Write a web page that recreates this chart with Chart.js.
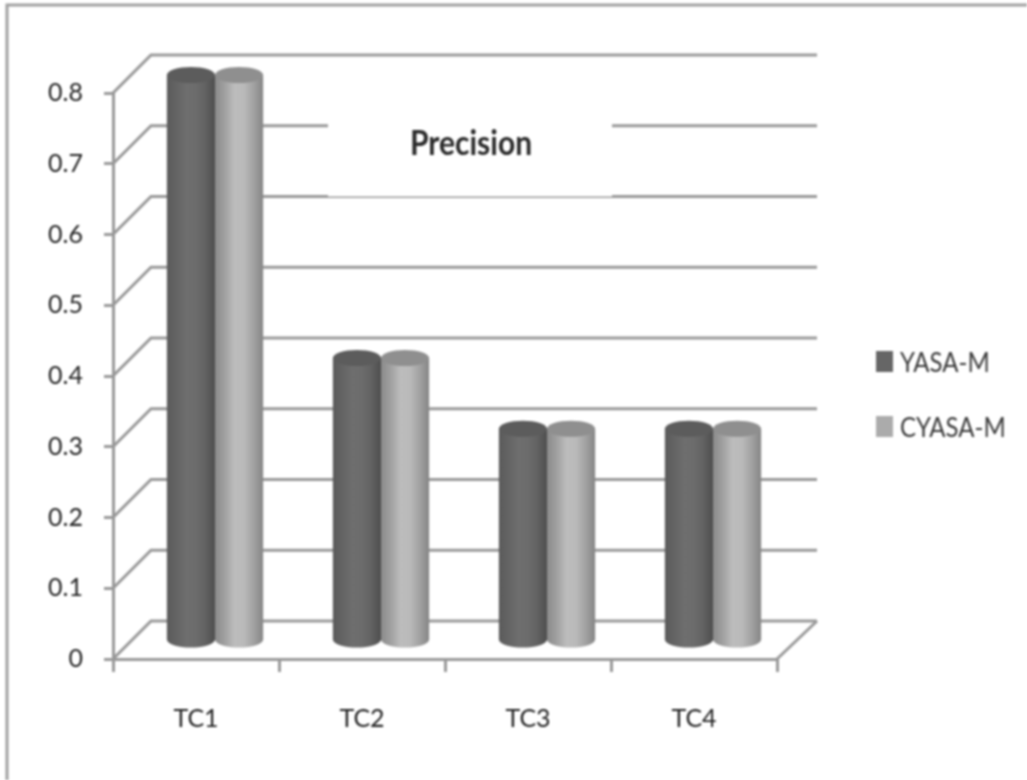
<!DOCTYPE html>
<html>
<head>
<meta charset="utf-8">
<title>Precision</title>
<script src="https://cdn.jsdelivr.net/npm/chart.js@4"></script>
<style>
  html, body { margin: 0; padding: 0; background: #fff; overflow: hidden; }
  canvas { display: block; filter: blur(0.9px); }
</style>
</head>
<body>
<canvas id="precisionChart" width="1027" height="780"></canvas>
<script>
const categories = ['TC1', 'TC2', 'TC3', 'TC4'];
const yasaValues = [0.8, 0.4, 0.3, 0.3];
const cyasaValues = [0.8, 0.4, 0.3, 0.3];
const yTicks = [0, 0.1, 0.2, 0.3, 0.4, 0.5, 0.6, 0.7, 0.8];

const gridColor = '#999999';
const textFont = 'Lato, "Liberation Sans", sans-serif';

// depth of the fake 3D box, in pixels
const wallDx = 38;
const wallDy = -38;

// left and right shading of each cylinder
const barShades = [
    { top: '#5c5c5c', stops: ['#5a5a5a', '#646464', '#6e6e6e', '#6c6c6c', '#626262', '#4e4e4e'] },
    { top: '#8f8f8f', stops: ['#8a8a8a', '#a0a0a0', '#bcbcbc', '#bababa', '#a2a2a2', '#858585'] }
];

// the source picture is stretched vertically, so text drawn here is too
function tallText(ctx, text, x, baseline, stretch) {
    ctx.save();
    ctx.translate(x, baseline);
    ctx.scale(1, stretch);
    ctx.fillText(text, 0, 0);
    ctx.restore();
}

const box3d = {
    id: 'box3d',
    beforeDraw(chart) {
        const { ctx, scales } = chart;
        const x0 = scales.x.left;
        const x1 = scales.x.right;

        ctx.save();
        // picture frame
        ctx.strokeStyle = '#a0a0a0';
        ctx.lineWidth = 3;
        ctx.beginPath();
        ctx.moveTo(7, 780);
        ctx.lineTo(7, 5);
        ctx.lineTo(1027, 5);
        ctx.stroke();

        // back wall lines and the slanted side wall
        ctx.strokeStyle = gridColor;
        yTicks.forEach(v => {
            const y = scales.y.getPixelForValue(v);
            ctx.beginPath();
            ctx.moveTo(x0, y);
            ctx.lineTo(x0 + wallDx, y + wallDy);
            ctx.lineTo(x1 + wallDx + 2, y + wallDy);
            ctx.stroke();
        });

        // right edge of the floor
        const yZero = scales.y.getPixelForValue(0);
        ctx.beginPath();
        ctx.moveTo(x1, yZero);
        ctx.lineTo(x1 + wallDx + 2, yZero + wallDy);
        ctx.stroke();

        // white box behind the title
        ctx.fillStyle = '#fff';
        ctx.fillRect(328, 112, 284, 84.5);

        // title
        ctx.fillStyle = '#2a2a2a';
        ctx.font = 'bold 30px ' + textFont;
        ctx.textAlign = 'center';
        ctx.textBaseline = 'alphabetic';
        tallText(ctx, 'Precision', 471, 155, 1.12);

        // legend
        ctx.textAlign = 'left';
        ctx.font = '24px ' + textFont;
        chart.data.datasets.forEach((ds, i) => {
            const top = 351 + i * 65;
            ctx.fillStyle = ds.backgroundColor;
            ctx.fillRect(876, top, 17, 21);
            ctx.fillStyle = '#3a3a3a';
            tallText(ctx, ds.label, 900, top + 21, 1.15);
        });
        ctx.restore();
    },
    beforeDatasetsDraw(chart) {
        const { ctx } = chart;
        const shiftX = wallDx / 2;
        const shiftY = wallDy / 2 + 1;
        const ry = 8;

        chart.data.datasets.forEach((ds, i) => {
            const shade = barShades[i];
            chart.getDatasetMeta(i).data.forEach(bar => {
                const w = bar.width / 2;
                const cx = bar.x + shiftX;
                const top = bar.y + shiftY;
                const base = bar.base + shiftY;

                const grad = ctx.createLinearGradient(cx - w, 0, cx + w, 0);
                shade.stops.forEach((c, k) => grad.addColorStop(k / (shade.stops.length - 1), c));

                ctx.save();
                ctx.fillStyle = grad;
                ctx.beginPath();
                ctx.moveTo(cx - w, top);
                ctx.lineTo(cx - w, base);
                ctx.ellipse(cx, base, w, ry, 0, Math.PI, 0, true);
                ctx.lineTo(cx + w, top);
                ctx.closePath();
                ctx.fill();

                ctx.fillStyle = shade.top;
                ctx.beginPath();
                ctx.ellipse(cx, top, w, ry, 0, 0, Math.PI * 2);
                ctx.fill();
                ctx.restore();
            });
        });
        // cylinders replace the flat bars
        return false;
    }
};

new Chart(document.getElementById('precisionChart').getContext('2d'), {
    type: 'bar',
    data: {
        labels: categories,
        datasets: [
            { label: 'YASA-M', data: yasaValues, backgroundColor: '#666666' },
            { label: 'CYASA-M', data: cyasaValues, backgroundColor: '#ababab' }
        ]
    },
    plugins: [box3d],
    options: {
        responsive: false,
        animation: false,
        devicePixelRatio: 1,
        categoryPercentage: 0.58,
        barPercentage: 1,
        layout: { padding: { top: 93, right: 250, bottom: 0, left: 0 } },
        plugins: {
            legend: { display: false },
            title: { display: false },
            tooltip: { enabled: false }
        },
        scales: {
            x: {
                afterFit(scale) { scale.height = 121; },
                grid: { drawOnChartArea: false, tickLength: 13, tickColor: gridColor, lineWidth: 3 },
                border: { color: gridColor, width: 3 },
                ticks: {
                    padding: 32,
                    maxRotation: 0,
                    autoSkip: false,
                    color: '#222',
                    font: { family: textFont, size: 25 }
                }
            },
            y: {
                min: 0,
                max: 0.8,
                afterFit(scale) { scale.width = 113; },
                grid: { drawOnChartArea: false, tickLength: 9, tickColor: gridColor, lineWidth: 3 },
                border: { color: gridColor, width: 3 },
                ticks: {
                    stepSize: 0.1,
                    padding: 21,
                    color: '#222',
                    font: { family: textFont, size: 25 }
                }
            }
        }
    }
});
</script>
</body>
</html>
